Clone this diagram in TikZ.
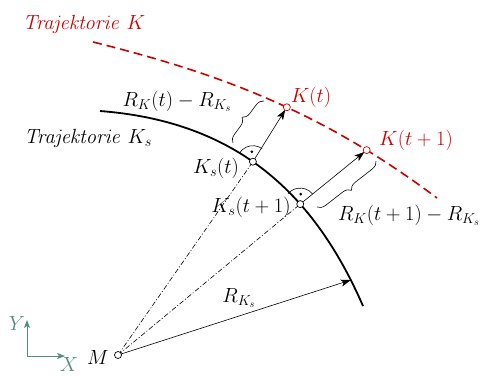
\RequirePackage{fix-cm}
\documentclass[tikz,border=0pt]{standalone}
\usetikzlibrary{arrows.meta,decorations.pathreplacing}
\definecolor{kred}{RGB}{204,0,0}
\definecolor{teal2}{RGB}{84,140,130}
\begin{document}
\begin{tikzpicture}[x=1pt,y=-1pt,
  every node/.style={font=\fontsize{20.5}{24}\selectfont, inner sep=0pt},
  pt/.style={circle, draw=black, fill=white, line width=0.7pt, minimum size=7pt},
  rpt/.style={pt, draw=kred},
  arr/.style={line width=0.6pt, -{Stealth[length=10pt,width=7pt,inset=2.5pt]}},
  dd/.style={line width=0.6pt, dash pattern=on 5pt off 2pt on 1pt off 2pt},
  brc/.style={line width=0.6pt, decorate, decoration={brace, amplitude=8pt}},
  ax/.style={teal2, line width=0.8pt, -{Stealth[length=8pt,width=6pt,inset=2pt]}}]
\useasboundingbox (0,0) rectangle (481,376);
% trajectories
\draw[kred, line width=1.6pt, dash pattern=on 9pt off 5pt]
  (93,42) .. controls (213,72) and (317,108) .. (437,198)
  coordinate[pos=0.565] (Ka) coordinate[pos=0.8] (Kb);
\draw[black, line width=1.8pt]
  (100,111) .. controls (230,121) and (311,186.4) .. (363,306)
  coordinate[pos=0.47] (Ksa) coordinate[pos=0.665] (Ksb) coordinate[pos=0.925] (Rend);
% points
\coordinate (Mc) at (118,355);
% dash-dot lines
\draw[dd] (Mc) -- (Ksa);
\draw[dd] (Mc) -- (Ksb);
% arrows
\draw[arr] (Mc) -- (Rend);
\draw[arr, shorten >=3pt] (Ksa) -- (Ka);
\draw[arr, shorten >=3pt] (Ksb) -- (Kb);
% right angle marks
\draw[line width=0.6pt] ([shift={(-55:16)}]Ksa) arc[start angle=-55, end angle=-150, radius=16];
\fill ([shift={(-96:10)}]Ksa) circle (1.5);
\draw[line width=0.6pt] ([shift={(-40:16)}]Ksb) arc[start angle=-40, end angle=-140, radius=16];
\fill ([shift={(-87:10)}]Ksb) circle (1.5);
% braces
\coordinate (b1s) at (233,143);
\coordinate (b1e) at (264,101);
\draw[brc] (b1s) -- (b1e);
\coordinate (b2s) at (376,161);
\coordinate (b2e) at (317,207);
\draw[brc] (b2s) -- (b2e);
% nodes (circles)
\node[pt] (M) at (Mc) {};
\node[pt] (KsA) at (Ksa) {};
\node[pt] (KsB) at (Ksb) {};
\node[rpt] (KA) at (Ka) {};
\node[rpt] (KB) at (Kb) {};
% axes
\coordinate (O) at (27,356);
\coordinate (Yt) at (27,320);
\coordinate (Xt) at (65,356);
\draw[ax] (O) -- (Yt);
\draw[ax] (O) -- (Xt);
\node[teal2] (Ylab) at (17,323) {$Y$};
\node[teal2] (Xlab) at (69,364) {$X$};
% labels
\node[kred] (tK) at (84,24) {$\mathit{Trajektorie}\ K$};
\node (tKs) at (88,138) {$\mathit{Trajektorie}\ K_s$};
\node (l1) at (177,101) {$R_K(t)-R_{K_s}$};
\node (l2) at (216,168) {$K_s(t)$};
\node (l3) at (251,207) {$K_s(t+1)$};
\node[kred] (l4) at (311,97) {$K(t)$};
\node[kred] (l5) at (416,140) {$K(t+1)$};
\node (l6) at (409,215) {$R_K(t+1)-R_{K_s}$};
\node (l7) at (239,298) {$R_{K_s}$};
\node (l8) at (98,357) {$M$};
\end{tikzpicture}
\end{document}
